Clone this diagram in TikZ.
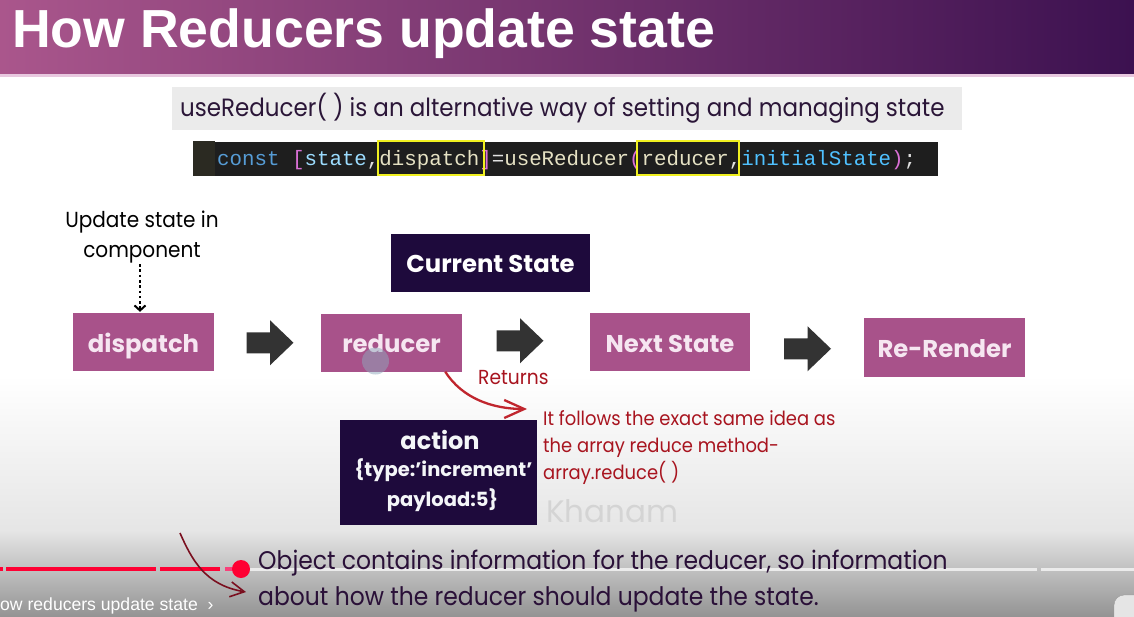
\documentclass[tikz,border=0pt]{standalone}
\usepackage{fontspec}
\usetikzlibrary{arrows.meta,calc}
\setmainfont{Poppins}
\newfontfamily\arialf{Liberation Sans}
\newfontfamily\monof{Liberation Mono}
\newfontfamily\popc[FakeStretch=0.92]{Poppins}

\definecolor{boxpink}{HTML}{A8528A}
\definecolor{boxtext}{HTML}{F6E6F1}
\definecolor{darkboxc}{HTML}{1E0A3C}
\definecolor{bannerc}{HTML}{EBEBEB}
\definecolor{bannertext}{HTML}{2B1638}
\definecolor{codebg}{HTML}{1E1E1E}
\definecolor{gutter}{HTML}{2B2A22}
\definecolor{ckw}{HTML}{569CD6}
\definecolor{cbr}{HTML}{DA70D6}
\definecolor{cvar}{HTML}{9CDCFE}
\definecolor{cfn}{HTML}{E6E2C4}
\definecolor{cwhite}{HTML}{E0E0E0}
\definecolor{cconst}{HTML}{4FC1FF}
\definecolor{hl}{HTML}{F0F020}
\definecolor{arrowc}{HTML}{333333}
\definecolor{redtxt}{HTML}{A8141F}
\definecolor{redarr}{HTML}{C0262E}
\definecolor{darkred}{HTML}{7A0F1F}
\definecolor{ytred}{HTML}{FF0033}
\definecolor{ytpink}{HTML}{F8407A}
\definecolor{titleL}{HTML}{AA568C}
\definecolor{titleR}{HTML}{3C1150}
\definecolor{titleline}{HTML}{E8C8DF}
\definecolor{cursorc}{HTML}{8FA8BC}
\definecolor{bottomtext}{HTML}{2A1038}

\begin{document}
\begin{tikzpicture}[x=1pt,y=-1pt,
  pinkbox/.style={fill=boxpink, text=boxtext, inner sep=0pt,
    font=\fontsize{24.3}{26}\selectfont\bfseries, minimum height=58pt,
    text height=25pt, text depth=5pt},
  darkbox/.style={fill=darkboxc, text=white, inner sep=0pt,
    font=\fontsize{24.3}{26}\selectfont\bfseries},
  actiontxt/.style={text=white!90!cursorc, inner sep=0pt, anchor=base,
    font=\fontsize{19.5}{22}\selectfont\bfseries},
  redline/.style={text=redtxt, inner sep=0pt, anchor=base west,
    font=\popc\fontsize{19.5}{22}\selectfont},
  bottomline/.style={text=bottomtext, inner sep=0pt, anchor=base west,
    font=\popc\fontsize{25.5}{28}\selectfont},
  updline/.style={text=black, inner sep=0pt, anchor=base,
    font=\popc\fontsize{21.8}{24}\selectfont},
  hlbox/.style={draw=hl, line width=2.2pt},
  blockarrow/.pic={\fill[arrowc] (-23.5,-10.5) -- (0,-10.5) -- (0,-22.5)
     -- (23.5,0) -- (0,22.5) -- (0,10.5) -- (-23.5,10.5) -- cycle;}
]
\useasboundingbox (0,0) rectangle (1134,616);
% background
\fill[white] (0,0) rectangle (1134,616);
\shade[top color=white, bottom color=black!10] (0,375) rectangle (1134,531);
\shade[top color=black!10, bottom color=black!42] (0,530) rectangle (1134,616);

% title bar
\shade[left color=titleL, right color=titleR] (0,0) rectangle (1134,74);
\fill[titleline] (0,74) rectangle (1134,77);
\node[anchor=base west, inner sep=0pt, text=white,
  font=\arialf\bfseries\fontsize{53.6}{60}\selectfont] (title) at (12,47)
  {How Reducers update state};

% banner
\node[fill=bannerc, minimum width=790pt, minimum height=43pt, inner sep=0pt] (banner) at (567,108.5) {};
\node[anchor=base west, inner sep=0pt, text=bannertext,
  font=\popc\fontsize{25}{28}\selectfont] (bannertxt) at (180,116)
  {useReducer( ) is an alternative way of setting and managing state};

% code line
\node[fill=codebg, minimum width=745pt, minimum height=34pt, inner sep=0pt] (codebox) at (565.5,158.5) {};
\fill[gutter] (codebox.north west) rectangle ($(codebox.south west)+(22,0)$);
\node[anchor=base west, inner sep=0pt, font=\monof\fontsize{20.8}{24}\selectfont] (code) at (217,165)
  {{\color{ckw}const} {\color{cbr}[}{\color{cvar}state}{\color{cwhite},}{\color{cfn}dispatch}{\color{cbr}]}{\color{cwhite}=}{\color{cfn}useReducer}{\color{cbr}(}{\color{cfn}reducer}{\color{cwhite},}{\color{cconst}initialState}{\color{cbr})}{\color{cwhite};}};
\draw[hlbox] (378,141) rectangle (484,175);
\draw[hlbox] (637,141) rectangle (739,175);

% update text
\node[updline] (upd1) at (142,227) {Update state in};
\node[updline] (upd2) at (142,257) {component};

% boxes
\node[pinkbox, minimum width=141pt] (dispatch) at (143.5,342) {dispatch};
\node[pinkbox, minimum width=141pt] (reducer) at (391.5,342.5) {reducer};
\node[darkbox, minimum width=199pt, minimum height=58pt, text height=24pt, text depth=6pt] (cur) at (490.5,263) {Current State};
\node[pinkbox, minimum width=160pt] (next) at (670,342) {Next State};
\node[pinkbox, minimum width=161pt, minimum height=59pt] (render) at (944.5,347.5) {Re-Render};
\node[darkbox, minimum width=197pt, minimum height=105pt] (action) at (438.5,472.5) {};
\node[actiontxt, font=\fontsize{24}{26}\selectfont\bfseries] (act1) at (440,449) {action};
\node[actiontxt] (act2) at (443.5,476) {\{type:’increment’};
\node[actiontxt] (act3) at (442.5,506) {payload:5\}};

% dotted arrow
\draw[line width=2.6pt, dash pattern=on 2.6pt off 2.7pt,
  -{Straight Barb[length=5pt,width=11pt,line width=2pt]}]
  ($(upd2.base)+(-2,7)$) -- ($(dispatch.north)+(-3.5,-1)$);

% block arrows
\pic at ($(dispatch.east)!0.5!(reducer.west)+(2.5,0.5)$) {blockarrow};
\pic at ($(reducer.east)!0.5!(next.west)+(-6,-1.5)$) {blockarrow};
\pic at ($(next.east)!0.5!(render.west)+(0.5,4)$) {blockarrow};

% cursor
\fill[cursorc, opacity=0.5] (375.5,361) circle (13.5);

% returns
\node[text=redtxt, inner sep=0pt, anchor=base west,
  font=\popc\fontsize{20.3}{22}\selectfont] (ret) at (478,384) {Returns};
\coordinate (retEnd) at (527,409);
\draw[redarr, line width=2.3pt, -{Straight Barb[length=20pt,width=18pt,line width=2.3pt]}]
  ($(reducer.south west)!0.88!(reducer.south east)$) .. controls (462,398) and (492,409) .. (retEnd);
\node[redline] (n1) at (543,425) {It follows the exact same idea as};
\node[redline] (n2) at (543,452) {the array reduce method-};
\node[redline] (n3) at (543,479) {array.reduce( )};

% watermark
\node[anchor=base west, inner sep=0pt, text=black!17,
  font=\fontsize{31}{34}\selectfont] (wm) at (546,522) {Khanam};

% player progress bar
\draw[line width=3pt, black!8] (250,569) -- (1037,569);
\draw[line width=3pt, black!8] (1041,569) -- (1134,569);
\draw[line width=3.5pt, ytred] (0,569) -- (3,569);
\draw[line width=3.5pt, ytred] (6,569) -- (156,569);
\draw[line width=3.5pt, ytred] (160,569) -- (220,569);
\draw[line width=3.5pt, ytpink] (225,569) -- (234,569);
\fill[ytred] (241,569) circle (9);
\node[anchor=base west, inner sep=0pt, text=white,
  font=\arialf\fontsize{17.6}{20}\selectfont] (chap) at (0,610) {ow reducers update state\ \ ›};
\fill[white!90!black, draw=black!40, rounded corners=10pt] (1114,595) rectangle (1160,640);

% object explanation
\coordinate (objStart) at (180,533);
\coordinate (objEnd) at (246,592);
\draw[darkred, line width=1.6pt, -{Straight Barb[length=14pt,width=15pt,line width=1.6pt]}]
  (objStart) .. controls (192,560) and (205,585) .. (objEnd);
\node[bottomline] (b1) at (258,569) {Object contains information for the reducer, so information};
\node[bottomline] (b2) at (258,605) {about how the reducer should update the state.};
\end{tikzpicture}
\end{document}
